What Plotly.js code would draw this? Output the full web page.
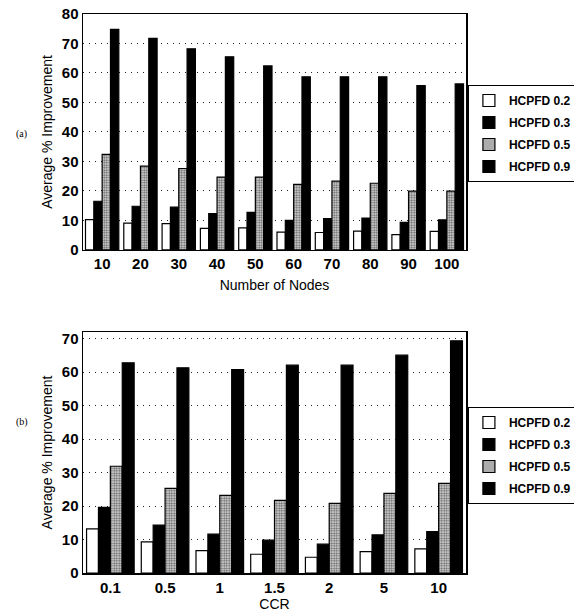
<!DOCTYPE html>
<html>
<head>
<meta charset="utf-8">
<script src="https://cdn.plot.ly/plotly-3.0.1.min.js"></script>
<style>html,body{margin:0;padding:0;background:#fff;}#chart{width:574px;height:613px;}</style>
</head>
<body>
<div id="chart"></div>
<script>
// Panel (a): Number of Nodes
const nodes = ["10","20","30","40","50","60","70","80","90","100"];
const a_h02 = [10.3, 9.1, 8.9, 7.3, 7.5, 6.0, 5.9, 6.4, 5.2, 6.3];
const a_h03 = [16.5, 14.8, 14.5, 12.3, 12.7, 10.0, 10.6, 10.8, 9.3, 10.2];
const a_h05 = [32.4, 28.4, 27.6, 24.7, 24.7, 22.2, 23.3, 22.6, 19.9, 19.9];
const a_h09 = [74.8, 71.7, 68.2, 65.5, 62.4, 58.7, 58.7, 58.7, 55.7, 56.3];

// Panel (b): CCR
const ccr = ["0.1","0.5","1","1.5","2","5","10"];
const b_h02 = [13.2, 9.3, 6.7, 5.6, 4.7, 6.4, 7.2];
const b_h03 = [19.6, 14.3, 11.6, 9.8, 8.6, 11.4, 12.4];
const b_h05 = [31.9, 25.3, 23.2, 21.7, 20.8, 23.8, 26.8];
const b_h09 = [62.8, 61.3, 60.8, 62.1, 62.1, 65.1, 69.4];

const seriesNames = ["HCPFD 0.2","HCPFD 0.3","HCPFD 0.5","HCPFD 0.9"];

const styles = [
  {color: "#ffffff", line: {color: "#000", width: 1.2}},
  {color: "#000000", line: {color: "#000", width: 1.2}},
  {color: "#d0d0d0", line: {color: "#000", width: 1.2},
   pattern: {shape: ".", fgcolor: "#666", bgcolor: "#e4e4e4", size: 2.5, solidity: 0.5}},
  {color: "#000000", line: {color: "#000", width: 1.2}}
];

function mk(x, ys, xa, ya, leg, pfx) {
  return ys.map((y, i) => ({
    type: "bar", x: x, y: y, name: seriesNames[i],
    xaxis: xa, yaxis: ya, legend: leg, legendgroup: pfx + i,
    marker: styles[i], hoverinfo: "skip"
  }));
}

const data = [
  ...mk(nodes, [a_h02, a_h03, a_h05, a_h09], "x", "y", "legend", "a"),
  ...mk(ccr, [b_h02, b_h03, b_h05, b_h09], "x2", "y2", "legend2", "b")
];

const tickFont = {family: "Liberation Sans, Arial, sans-serif", size: 15, color: "#000", weight: "bold"};
const titleFont = {family: "Liberation Sans, Arial, sans-serif", size: 14, color: "#000"};
const legFont = {family: "Liberation Sans, Arial, sans-serif", size: 12, color: "#000", weight: "bold"};

function yax(domain, range, anchor) {
  return {
    domain: domain, range: range, anchor: anchor,
    tickvals: [0,10,20,30,40,50,60,70,80], ticks: "",
    showgrid: true, gridcolor: "#222", griddash: "1px,5px", gridwidth: 1,
    showline: true, linecolor: "#000", linewidth: 1.5, mirror: true,
    zeroline: false, tickfont: tickFont,
    title: {text: "Average % Improvement", font: titleFont, standoff: 6}
  };
}
function xax(anchor, title, standoff) {
  return {
    type: "category",
    anchor: anchor, showline: true, linecolor: "#000", linewidth: 1.5, mirror: true,
    ticks: "", tickfont: tickFont, showgrid: false,
    title: {text: title, font: titleFont, standoff: standoff}
  };
}

const legBase = {
  xref: "paper", yref: "paper", xanchor: "left", yanchor: "top",
  bgcolor: "#fff", bordercolor: "#000", borderwidth: 1,
  font: legFont, itemwidth: 30, tracegroupgap: 3, traceorder: "grouped"
};

const layout = {
  width: 574, height: 613,
  margin: {l: 83, r: 108, t: 14, b: 40, autoexpand: false},
  paper_bgcolor: "#fff", plot_bgcolor: "#fff",
  barmode: "group", bargap: 0.13, bargroupgap: 0,
  xaxis: xax("y", "Number of Nodes", 9),
  yaxis: yax([0.578, 1], [0, 80], "x"),
  xaxis2: xax("y2", "CCR", 4),
  yaxis2: yax([0, 0.431], [0, 72], "x2"),
  legend: Object.assign({}, legBase, {x: 1.005, y: 0.873}),
  legend2: Object.assign({}, legBase, {x: 1.005, y: 0.297}),
  showlegend: true,
  annotations: [
    {text: "(a)", xref: "paper", yref: "paper", x: -0.18, y: 0.80, showarrow: false,
     font: {family: "Liberation Serif, serif", size: 10, color: "#000"}},
    {text: "(b)", xref: "paper", yref: "paper", x: -0.18, y: 0.255, showarrow: false,
     font: {family: "Liberation Serif, serif", size: 10, color: "#000"}}
  ]
};

Plotly.newPlot("chart", data, layout, {displayModeBar: false, staticPlot: true});
</script>
</body>
</html>
